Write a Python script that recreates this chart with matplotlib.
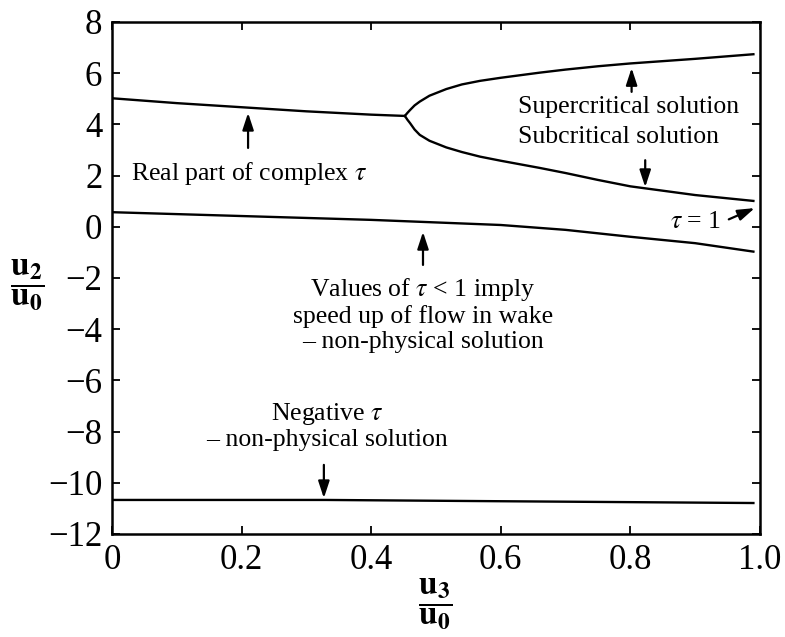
import matplotlib
matplotlib.use('Agg')
import matplotlib.pyplot as plt

plt.rcParams['font.family'] = ['Liberation Serif', 'DejaVu Serif']
plt.rcParams['mathtext.fontset'] = 'stix'

# values
x_real = [0.0, 0.1, 0.2, 0.3, 0.4, 0.452]
y_real = [5.02, 4.83, 4.67, 4.51, 4.38, 4.33]

x_branch = [0.452, 0.456, 0.46, 0.467, 0.475, 0.49, 0.516, 0.54, 0.568, 0.6, 0.66, 0.7, 0.75, 0.8, 0.9, 0.99]
y_super = [4.33, 4.45, 4.56, 4.74, 4.89, 5.12, 5.38, 5.56, 5.70, 5.82, 6.02, 6.14, 6.27, 6.38, 6.56, 6.74]
y_sub = [4.33, 4.18, 4.05, 3.80, 3.59, 3.36, 3.10, 2.92, 2.74, 2.58, 2.30, 2.10, 1.83, 1.58, 1.24, 1.01]

x_low = [0.0, 0.2, 0.4, 0.6, 0.7, 0.8, 0.9, 0.99]
y_low = [0.57, 0.42, 0.27, 0.07, -0.12, -0.39, -0.64, -0.97]

x_neg = [0.0, 0.33, 0.6, 0.99]
y_neg = [-10.67, -10.67, -10.72, -10.79]

xticks = [0, 0.2, 0.4, 0.6, 0.8, 1.0]
xticklabels = ['0', '0.2', '0.4', '0.6', '0.8', '1.0']
yticks = [-12, -10, -8, -6, -4, -2, 0, 2, 4, 6, 8]

fig = plt.figure(figsize=(7.85, 6.37), dpi=100)
ax = fig.add_axes([0.1427, 0.1617, 0.8253, 0.8038])

for xs, ys in [(x_real, y_real), (x_branch, y_super), (x_branch, y_sub),
               (x_low, y_low), (x_neg, y_neg)]:
    ax.plot(xs, ys, color='black', lw=1.7)

ax.set_xlim(0, 1.0)
ax.set_ylim(-12, 8)
ax.set_xticks(xticks)
ax.set_xticklabels(xticklabels)
ax.set_yticks(yticks)
ax.tick_params(direction='in', top=True, right=True, length=6, width=1.3,
               labelsize=25, pad=7)
for s in ax.spines.values():
    s.set_linewidth(1.8)

fs = 18.5
arrow = dict(arrowstyle='-|>,head_length=0.85,head_width=0.28', color='black', lw=1.6,
             shrinkA=0, shrinkB=0, mutation_scale=12)

ax.text(0.211, 2.10, r'Real part of complex $\tau$', fontsize=fs, ha='center', va='center')
ax.annotate('', xy=(0.21, 4.45), xytext=(0.21, 3.08), arrowprops=arrow)

ax.text(0.627, 4.68, 'Supercritical solution', fontsize=fs, ha='left', va='center')
ax.text(0.627, 3.51, 'Subcritical solution', fontsize=fs, ha='left', va='center')
ax.annotate('', xy=(0.802, 6.2), xytext=(0.802, 5.27), arrowprops=arrow)
ax.annotate('', xy=(0.823, 1.55), xytext=(0.823, 2.6), arrowprops=arrow)

ax.text(0.941, 0.19, r'$\tau$ = 1', fontsize=fs, ha='right', va='center')
ax.annotate('', xy=(0.992, 0.73), xytext=(0.952, 0.29), arrowprops=arrow)

ax.text(0.48, -3.42, 'Values of $\\tau$ < 1 imply\nspeed up of flow in wake\n\u2013 non-physical solution',
        fontsize=fs, ha='center', va='center', multialignment='center', linespacing=1.15)
ax.annotate('', xy=(0.48, -0.2), xytext=(0.48, -1.49), arrowprops=arrow)

ax.text(0.332, -7.78, 'Negative $\\tau$\n\u2013 non-physical solution',
        fontsize=fs, ha='center', va='center', multialignment='center', linespacing=1.15)
ax.annotate('', xy=(0.327, -10.6), xytext=(0.327, -9.3), arrowprops=arrow)

ax.text(-0.131, 0.486, r'$\dfrac{\mathbf{u}_\mathbf{2}}{\mathbf{u}_\mathbf{0}}$',
        transform=ax.transAxes, fontsize=24, ha='center', va='center')
ax.text(0.498, -0.137, r'$\dfrac{\mathbf{u}_\mathbf{3}}{\mathbf{u}_\mathbf{0}}$',
        transform=ax.transAxes, fontsize=24, ha='center', va='center')

fig.savefig('out.png', dpi=100)
